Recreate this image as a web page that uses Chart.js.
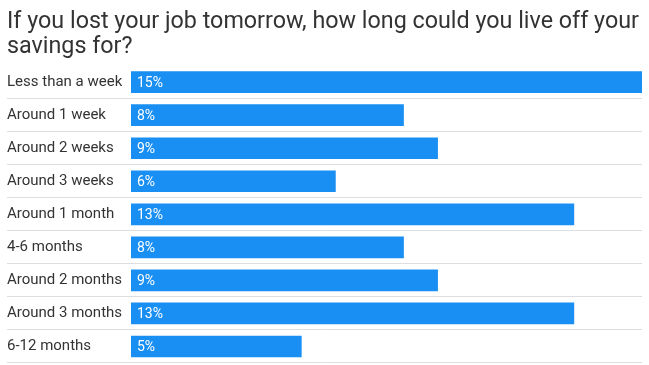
<!DOCTYPE html>
<html>
<head>
<meta charset="utf-8">
<script src="https://cdn.jsdelivr.net/npm/chart.js@4"></script>
<style>
  html, body { margin: 0; padding: 0; background: #fff; }
  #wrap { width: 649px; height: 365px; }
</style>
</head>
<body>
<div id="wrap"><canvas id="chart" width="649" height="365"></canvas></div>
<script>
'use strict';

const titleLines = ['If you lost your job tomorrow, how long could you live off your', 'savings for?'];
const categories = ['Less than a week', 'Around 1 week', 'Around 2 weeks', 'Around 3 weeks',
  'Around 1 month', '4-6 months', 'Around 2 months', 'Around 3 months', '6-12 months'];
const shares = [15, 8, 9, 6, 13, 8, 9, 13, 5];

const BAR_COLOR = '#1a8ff3';
const TEXT_COLOR = '#333';

// row separators, from the label column across the plot
const separators = {
  id: 'separators',
  beforeDatasetsDraw(chart) {
    const { ctx, chartArea, scales: { y } } = chart;
    ctx.save();
    ctx.strokeStyle = '#dedede';
    ctx.lineWidth = 1;
    for (let i = 0; i < categories.length; i++) {
      const yy = i < categories.length - 1
        ? (y.getPixelForValue(i) + y.getPixelForValue(i + 1)) / 2
        : y.getPixelForValue(i) + (y.getPixelForValue(i) - y.getPixelForValue(i - 1)) / 2;
      const py = Math.round(yy) - 0.5;
      ctx.beginPath();
      ctx.moveTo(7, py);
      ctx.lineTo(chartArea.right, py);
      ctx.stroke();
    }
    ctx.restore();
  },
};

// percentage labels inside each bar
const valueLabels = {
  id: 'valueLabels',
  afterDatasetsDraw(chart) {
    const { ctx } = chart;
    const meta = chart.getDatasetMeta(0);
    ctx.save();
    ctx.fillStyle = '#fff';
    ctx.font = '14px Roboto';
    ctx.textAlign = 'left';
    ctx.textBaseline = 'middle';
    meta.data.forEach((bar, i) => {
      ctx.fillText(shares[i] + '%', bar.base + 6, bar.y + 1);
    });
    ctx.restore();
  },
};

new Chart(document.getElementById('chart'), {
  type: 'bar',
  data: {
    labels: categories,
    datasets: [{
      data: shares,
      backgroundColor: BAR_COLOR,
      barThickness: 21,
      borderWidth: 0,
    }],
  },
  options: {
    indexAxis: 'y',
    responsive: false,
    animation: false,
    layout: { padding: { left: 7, right: 7, top: 0, bottom: 2 } },
    plugins: {
      legend: { display: false },
      tooltip: { enabled: false },
      title: {
        display: true,
        text: titleLines,
        align: 'start',
        color: TEXT_COLOR,
        font: { family: 'Roboto', size: 23.3, weight: 'normal', lineHeight: 1.075 },
        padding: { top: 10, bottom: 5.5 },
      },
    },
    scales: {
      x: { display: false, min: 0, max: 15 },
      y: {
        grid: { display: false },
        border: { display: false },
        afterFit(scale) {
          scale.width = 124;
          scale.paddingTop = 0;
          scale.paddingBottom = 0;
        },
        ticks: {
          crossAlign: 'far',
          color: TEXT_COLOR,
          font: { family: 'Roboto', size: 15 },
          padding: 0,
        },
      },
    },
  },
  plugins: [separators, valueLabels],
});
</script>
</body>
</html>
